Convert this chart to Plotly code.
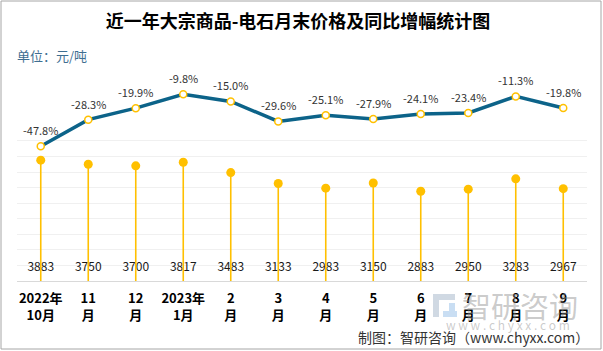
import plotly.graph_objects as go

categories = ["2022年<br>10月", "11<br>月", "12<br>月", "2023年<br>1月", "2<br>月", "3<br>月",
              "4<br>月", "5<br>月", "6<br>月", "7<br>月", "8<br>月", "9<br>月"]
prices = [3883, 3750, 3700, 3817, 3483, 3133, 2983, 3150, 2883, 2950, 3283, 2967]
yoy_pct = [-47.8, -28.3, -19.9, -9.8, -15.0, -29.6, -25.1, -27.9, -24.1, -23.4, -11.3, -19.8]

FONT = "Noto Sans CJK SC, Noto Sans, sans-serif"
GOLD = "#FFC000"
LINE = "#0C6389"

W, H = 603, 351
L, R, T, B = 17, 16, 70, 70
PW, PH = W - L - R, H - T - B

def px_x(px):
    return (px - L) / PW

def px_y(py):
    return (H - B - py) / PH

fig = go.Figure()

# price value labels near the base
fig.add_trace(go.Scatter(
    x=categories, y=[430] * len(categories), mode="text",
    text=[str(v) for v in prices], textposition="middle center",
    textfont=dict(family=FONT, size=12, color="#1a1a1a"),
    hoverinfo="skip", showlegend=False, cliponaxis=False))

# lollipop stems + dots
fig.add_trace(go.Scatter(
    x=categories, y=prices, mode="markers",
    marker=dict(color=GOLD, size=9, line=dict(width=0)),
    error_y=dict(type="data", symmetric=False, array=[0] * len(prices),
                 arrayminus=prices, color=GOLD, thickness=1.6, width=0),
    showlegend=False, cliponaxis=False))

# YoY line
fig.add_trace(go.Scatter(
    x=categories, y=yoy_pct, yaxis="y2", mode="lines+markers",
    line=dict(color=LINE, width=3.5),
    marker=dict(color="white", size=7, line=dict(color=GOLD, width=1.5)),
    showlegend=False, cliponaxis=False))

annotations = []
for c, p in zip(categories, yoy_pct):
    annotations.append(dict(x=c, y=p, xref="x", yref="y2", yshift=16,
                            text=f"{p:.1f}%", showarrow=False,
                            font=dict(family=FONT, size=11, color="#333333")))

annotations += [
    dict(x=px_x(15), y=px_y(55), xref="paper", yref="paper", xanchor="left", yanchor="middle",
         text="单位：元/吨", showarrow=False, font=dict(family=FONT, size=13, color="#3E6E91")),
    dict(x=px_x(591), y=px_y(337), xref="paper", yref="paper", xanchor="right", yanchor="middle",
         text="制图：智研咨询（www.chyxx.com）", showarrow=False,
         font=dict(family=FONT, size=14, color="#333333")),
    dict(x=px_x(520), y=px_y(305), xref="paper", yref="paper", xanchor="center", yanchor="middle",
         text="智研咨询", showarrow=False,
         font=dict(family=FONT, size=29, color="rgba(140,140,140,0.45)")),
    dict(x=px_x(508), y=px_y(324), xref="paper", yref="paper", xanchor="center", yanchor="middle",
         text="w w w . c h y x x . c o m", showarrow=False,
         font=dict(family=FONT, size=12, color="rgba(140,140,140,0.45)")),
]

shapes = [
    dict(type="rect", xref="paper", yref="paper", x0=px_x(1), x1=px_x(601), y0=px_y(349), y1=px_y(1),
         line=dict(color="#A6A6A6", width=1), fillcolor="rgba(0,0,0,0)", layer="above"),
    # watermark logo approximation
    dict(type="rect", xref="paper", yref="paper", x0=px_x(433), x1=px_x(455), y0=px_y(300), y1=px_y(294),
         line=dict(width=0), fillcolor="rgba(120,145,175,0.35)", layer="below"),
    dict(type="rect", xref="paper", yref="paper", x0=px_x(433), x1=px_x(439), y0=px_y(317), y1=px_y(300),
         line=dict(width=0), fillcolor="rgba(120,145,175,0.35)", layer="below"),
    dict(type="rect", xref="paper", yref="paper", x0=px_x(443), x1=px_x(457), y0=px_y(317), y1=px_y(311),
         line=dict(width=0), fillcolor="rgba(100,160,220,0.35)", layer="below"),
    dict(type="rect", xref="paper", yref="paper", x0=px_x(449), x1=px_x(455), y0=px_y(311), y1=px_y(303),
         line=dict(width=0), fillcolor="rgba(100,160,220,0.35)", layer="below"),
]

fig.update_layout(
    width=W, height=H,
    margin=dict(l=L, r=R, t=T, b=B),
    paper_bgcolor="white", plot_bgcolor="white",
    title=dict(text="<b>近一年大宗商品-电石月末价格及同比增幅统计图</b>",
               x=298 / W, xanchor="center", y=1 - 22 / H, yanchor="middle",
               yref="container", xref="container",
               font=dict(family=FONT, size=18, color="#000000")),
    xaxis=dict(type="category", showgrid=False, zeroline=False,
               showline=True, linecolor="#D9D9D9", linewidth=1, ticks="",
               ticklabelstandoff=5,
               tickfont=dict(family=FONT, size=13, color="#000000", weight="bold"),
               range=[-0.5, len(categories) - 0.5]),
    yaxis=dict(range=[0, 6780], tickvals=list(range(0, 5000, 500)), showticklabels=False,
               showgrid=True, gridcolor="#F0F0F0", gridwidth=1, zeroline=False, showline=False),
    yaxis2=dict(range=[-146.3, 8.0], overlaying="y", side="right", showgrid=False,
                showticklabels=False, zeroline=False, showline=False),
    annotations=annotations,
    shapes=shapes,
    showlegend=False,
)

fig.write_html("out.html")
